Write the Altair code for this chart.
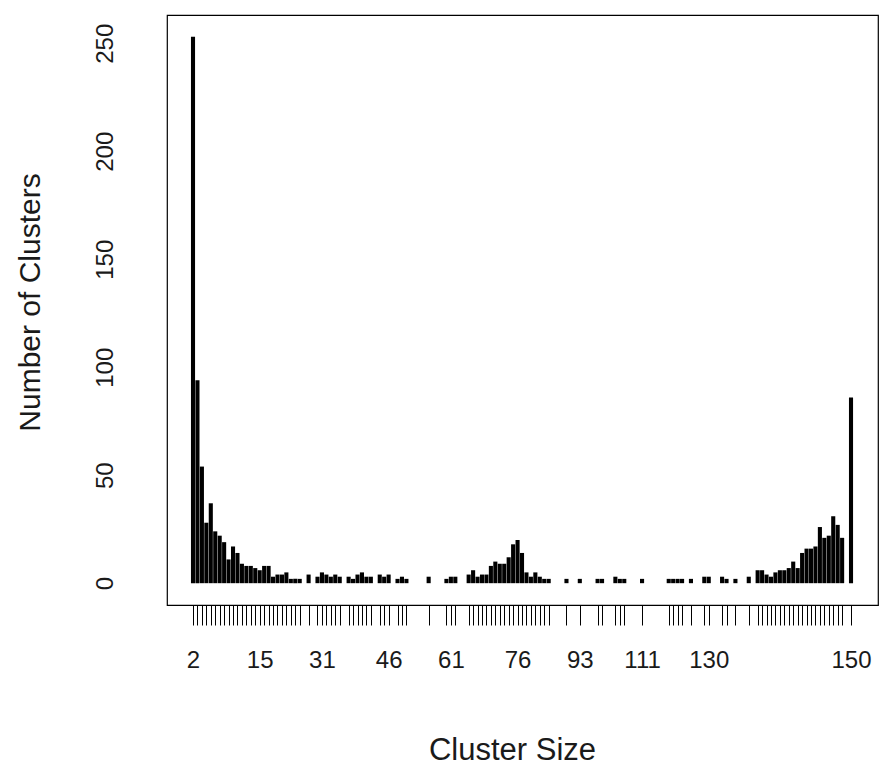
import altair as alt
import pandas as pd

# Bars in plotting order (rank of the cluster-size category) and their counts
bar_rank = [0, 1, 2, 3, 4, 5, 6, 7, 8, 9, 10, 11, 12, 13, 14, 15, 16, 17, 18, 19, 20, 21, 22, 23, 24,
            26, 28, 29, 30, 31, 32, 33, 35, 36, 37, 38, 39, 40, 42, 43, 44, 46, 47, 48, 53, 57, 58, 59,
            62, 63, 64, 65, 66, 67, 68, 69, 70, 71, 72, 73, 74, 75, 76, 77, 78, 79, 80,
            84, 87, 91, 92, 95, 96, 97, 101, 107, 108, 109, 110, 112, 115, 116, 119, 120, 122, 125,
            127, 128, 129, 130, 131, 132, 133, 134, 135, 136, 137, 138, 139, 140, 141, 142, 143, 144,
            145, 146, 148]
bar_count = [253, 94, 54, 28, 37, 24, 22, 19, 11, 17, 14, 9, 8, 8, 7, 6, 8, 8, 3, 4, 4, 5, 2, 2, 2,
             4, 3, 5, 4, 3, 4, 3, 3, 2, 4, 5, 3, 3, 4, 3, 4, 2, 3, 2, 3, 2, 3, 3,
             4, 6, 3, 4, 4, 8, 10, 9, 9, 12, 18, 20, 14, 5, 3, 5, 3, 2, 2,
             2, 2, 2, 2, 3, 2, 2, 2, 2, 2, 2, 2, 2, 3, 3, 3, 2, 2, 3,
             6, 6, 4, 3, 5, 6, 6, 7, 10, 7, 14, 16, 16, 17, 26, 21, 22, 31,
             27, 21, 86]

# Category ranks that carry a size label, and the labels
label_rank = [0, 15, 29, 44, 58, 73, 87, 101, 116, 148]
label_text = ["2", "15", "31", "46", "61", "76", "93", "111", "130", "150"]

y_ticks = [0, 50, 100, 150, 200, 250]

df = pd.DataFrame({"rank": bar_rank, "count": bar_count})

label_expr = " : ".join(
    f"datum.value == {r} ? '{t}'" for r, t in zip(label_rank, label_text)
) + " : ''"

FONT = "Liberation Sans"
TXT = "#1a1a1a"

chart = (
    alt.Chart(df)
    .transform_calculate(x0="datum.rank - 0.46", x1="datum.rank + 0.46")
    .mark_bar(color="black")
    .encode(
        x=alt.X(
            "x0:Q",
            scale=alt.Scale(domain=[-5.85, 154.07], nice=False, zero=False),
            axis=alt.Axis(
                values=bar_rank,
                labelExpr=label_expr,
                title="Cluster Size",
                domain=False,
                grid=False,
                ticks=True,
                tickSize=20,
                tickColor="black",
                tickWidth=1,
                labelOverlap=False,
                labelFlush=False,
                labelBound=False,
                labelBaseline="alphabetic",
                labelPadding=42,
                labelFont=FONT,
                labelFontSize=24,
                labelColor=TXT,
                titleFont=FONT,
                titleFontSize=31,
                titleFontWeight="normal",
                titleColor=TXT,
                titleX=345,
                titleY=154,
                titleAlign="center",
                titleBaseline="alphabetic",
            ),
        ),
        x2="x1:Q",
        y=alt.Y(
            "count:Q",
            scale=alt.Scale(domain=[-10.1, 263.1], nice=False, zero=False),
            axis=alt.Axis(
                values=y_ticks,
                title="Number of Clusters",
                domain=False,
                grid=False,
                ticks=False,
                labelAngle=-90,
                labelAlign="center",
                labelBaseline="alphabetic",
                labelPadding=55,
                labelFont=FONT,
                labelFontSize=24,
                labelColor=TXT,
                titleFont=FONT,
                titleFontSize=30,
                titleFontWeight="normal",
                titleColor=TXT,
                titleAngle=-90,
                titleX=-128,
                titleY=287,
                titleAlign="center",
                titleBaseline="alphabetic",
            ),
        ),
        y2=alt.datum(0),
    )
    .properties(
        width=711,
        height=590,
        autosize=alt.AutoSizeParams(type="none"),
        padding={"left": 167, "top": 15, "right": 4, "bottom": 161},
    )
    .configure(background="white", view=alt.ViewConfig(stroke="black", strokeWidth=1.2))
)

chart.save("out.html", embed_options={"renderer": "svg", "actions": False})
